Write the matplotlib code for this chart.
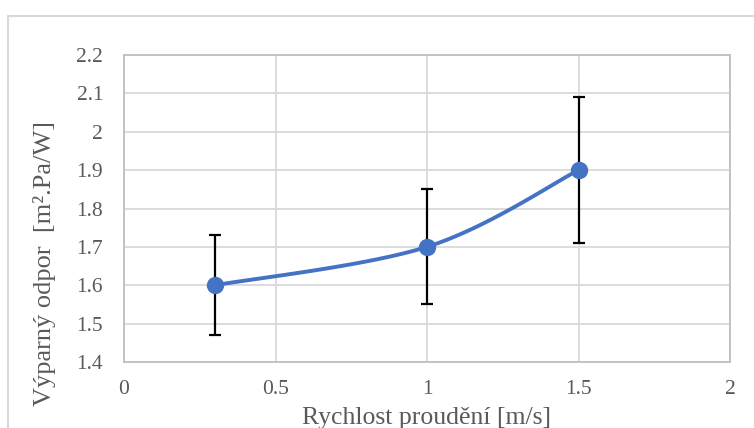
import numpy as np
import matplotlib.pyplot as plt
from matplotlib.lines import Line2D

# data
rychlost = [0.3, 1.0, 1.5]
odpor = [1.6, 1.7, 1.9]
chyba = [0.13, 0.15, 0.19]

x_ticks = [0, 0.5, 1, 1.5, 2]
y_ticks = [1.4, 1.5, 1.6, 1.7, 1.8, 1.9, 2.0, 2.1, 2.2]


def smooth(xs, ys, n=40):
    # Excel-like smoothed line (cardinal spline through the points)
    p = np.column_stack([xs, ys])
    ext = np.vstack([p[0], p, p[-1]])
    out = []
    for i in range(1, len(ext) - 2):
        p0, p1, p2, p3 = ext[i - 1], ext[i], ext[i + 1], ext[i + 2]
        c1 = p1 + (p2 - p0) / 6
        c2 = p2 - (p3 - p1) / 6
        t = np.linspace(0, 1, n)[:, None]
        seg = ((1 - t) ** 3) * p1 + 3 * ((1 - t) ** 2) * t * c1 + 3 * (1 - t) * t ** 2 * c2 + t ** 3 * p2
        out.append(seg)
    s = np.vstack(out)
    return s[:, 0], s[:, 1]


plt.rcParams['font.family'] = ['Liberation Serif', 'DejaVu Serif']
grey = '#595959'

fig = plt.figure(figsize=(7.54, 4.28), dpi=100)
ax = fig.add_axes([124 / 754, 1 - 362 / 428, (730 - 124) / 754, (362 - 55) / 428])

sx, sy = smooth(rychlost, odpor)
ax.plot(sx, sy, color='#4472C4', lw=2.8, zorder=3, solid_capstyle='round')
ax.errorbar(rychlost, odpor, yerr=chyba, fmt='none', ecolor='black',
            elinewidth=1.6, capsize=4.5, capthick=1.6, zorder=4)
ax.plot(rychlost, odpor, 'o', color='#4472C4', ms=11.5, zorder=5)

ax.set_xlim(0, 2)
ax.set_ylim(1.4, 2.2)
ax.set_xticks(x_ticks)
ax.set_xticklabels(['0', '0.5', '1', '1.5', '2'])
ax.set_yticks(y_ticks)
ax.set_yticklabels(['1.4', '1.5', '1.6', '1.7', '1.8', '1.9', '2', '2.1', '2.2'])
ax.grid(True, color='#d9d9d9', lw=1.3)
ax.set_axisbelow(True)
for sp in ax.spines.values():
    sp.set_color('#bfbfbf')
    sp.set_linewidth(1.3)
ax.tick_params(length=0, labelsize=15.5, labelcolor=grey)
ax.tick_params(axis='x', pad=13)
ax.tick_params(axis='y', pad=15)

fig.text(45 / 754, 1 - 264 / 428, 'Výparný odpor  [m².Pa/W]', rotation=90,
         ha='center', va='center', fontsize=19, color=grey)
fig.text(427 / 754, 1 - 418 / 428, 'Rychlost proudění [m/s]',
         ha='center', va='center', fontsize=18.5, color=grey)

# outer chart frame (cropped at right and bottom)
fig.add_artist(Line2D([8 / 754, 1], [1 - 16 / 428] * 2, transform=fig.transFigure, color='#d9d9d9', lw=1.5))
fig.add_artist(Line2D([8 / 754] * 2, [0, 1 - 16 / 428], transform=fig.transFigure, color='#d9d9d9', lw=1.5))

fig.savefig('out.png', dpi=100)
